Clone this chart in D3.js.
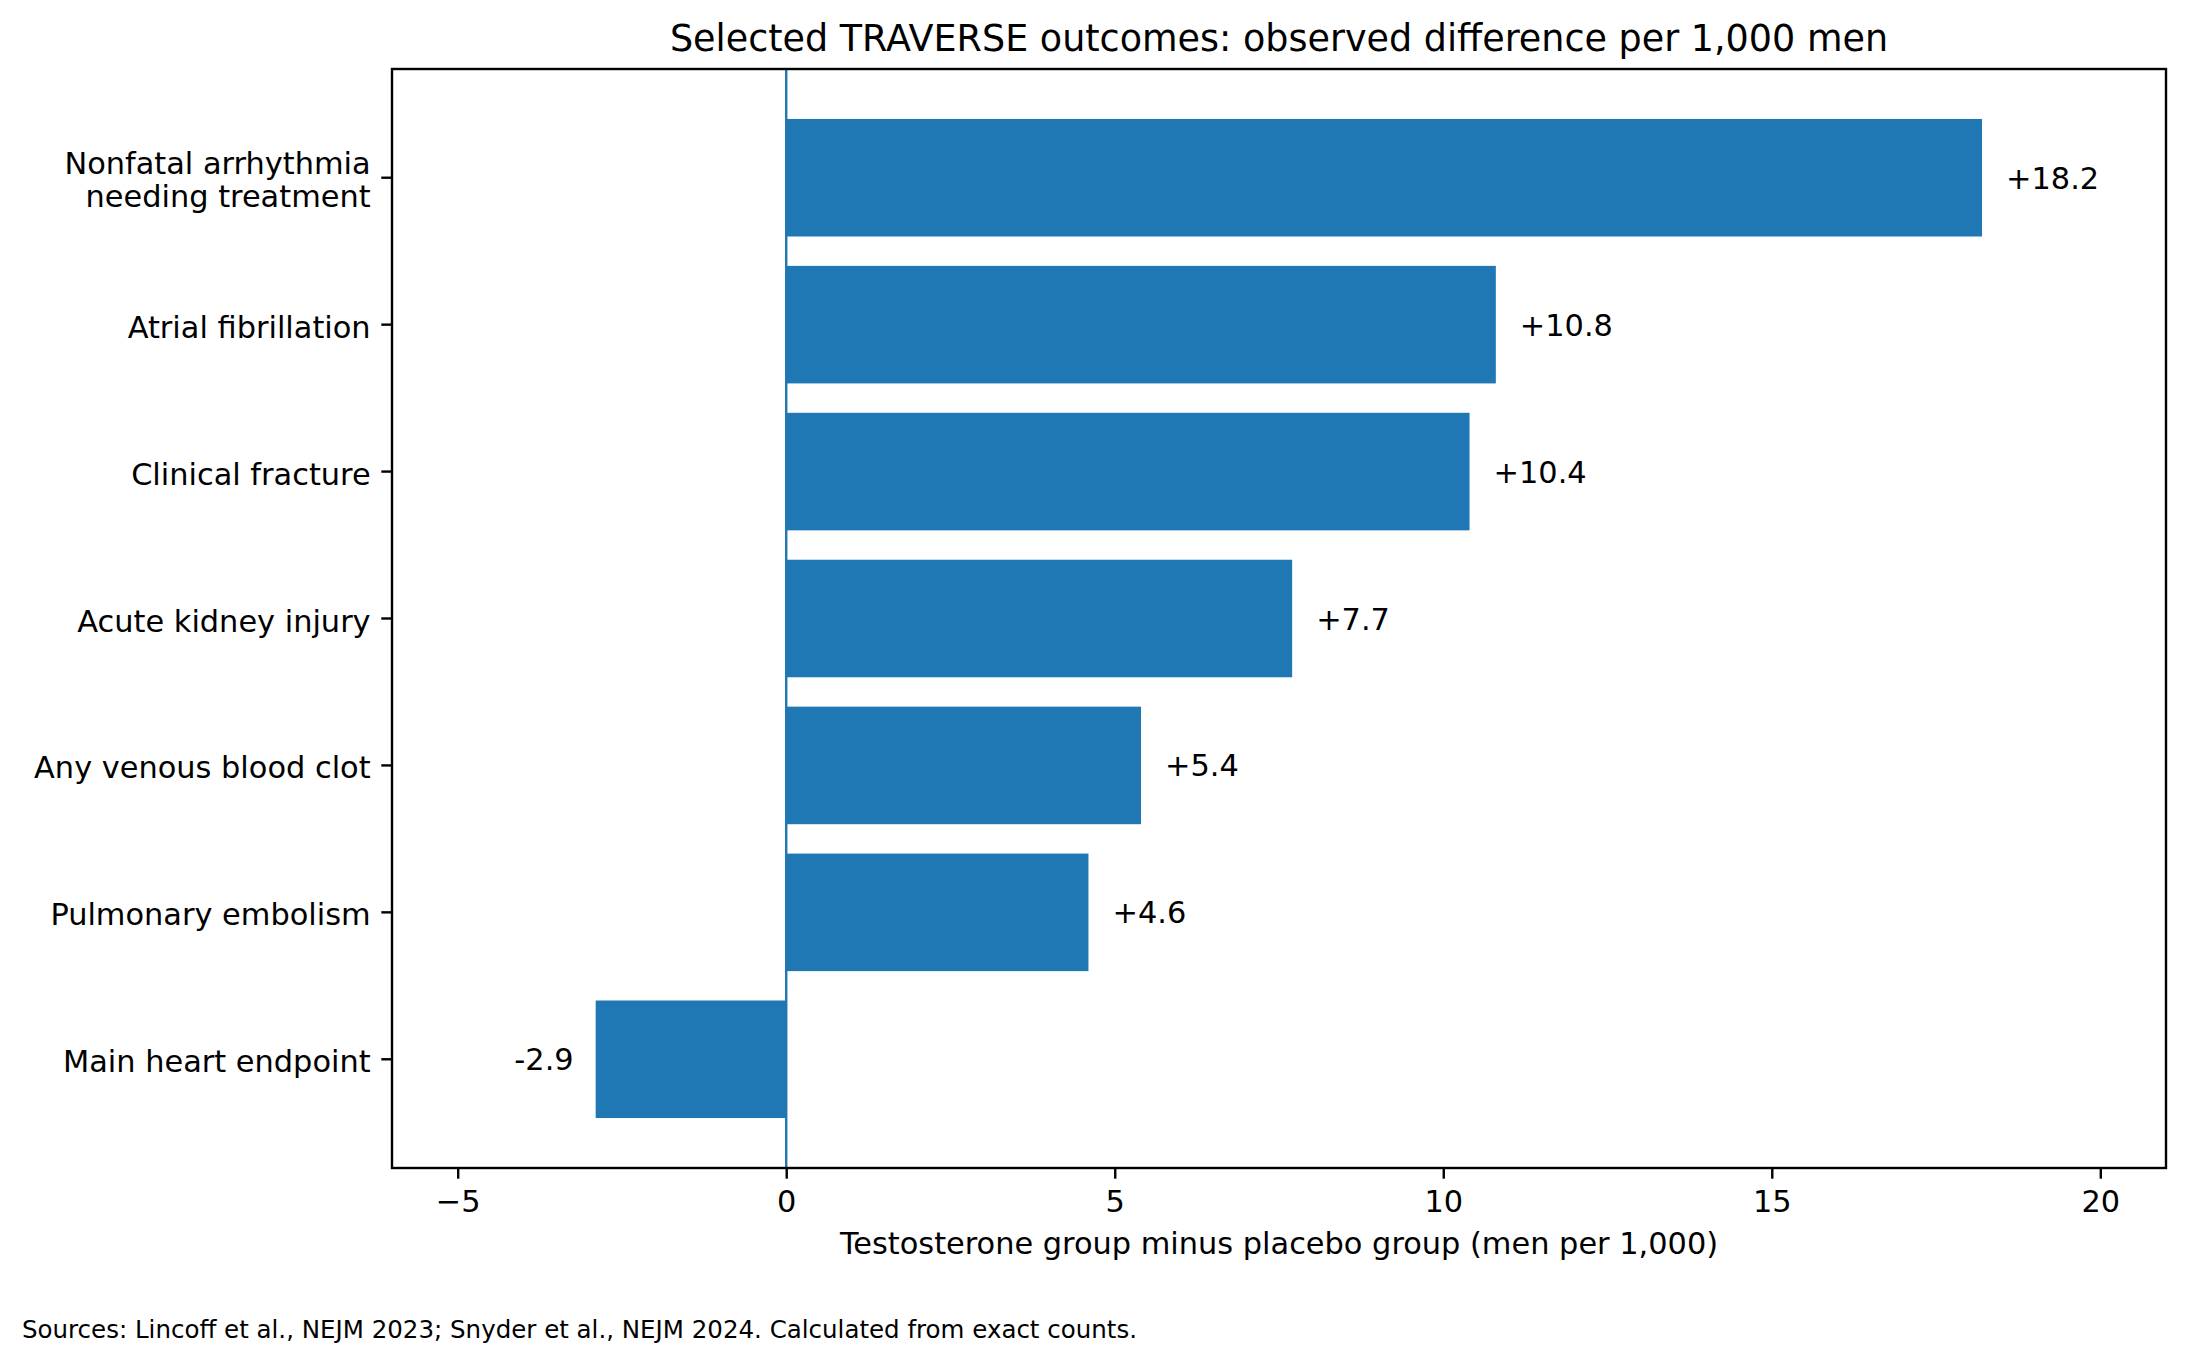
<!DOCTYPE html>
<html>
<head>
<meta charset="utf-8">
<script src="https://cdn.jsdelivr.net/npm/d3@7"></script>
<style>
  html, body { margin: 0; padding: 0; background: #fff; }
  text { font-family: "DejaVu Sans", sans-serif; fill: #000; }
</style>
</head>
<body>
<script>
const width = 2189;
const height = 1364;

// Données
const outcomes = [
    "Nonfatal arrhythmia\nneeding treatment",
    "Atrial fibrillation",
    "Clinical fracture",
    "Acute kidney injury",
    "Any venous blood clot",
    "Pulmonary embolism",
    "Main heart endpoint"
];
const differences = [18.2, 10.8, 10.4, 7.7, 5.4, 4.6, -2.9];
const xTicks = [-5, 0, 5, 10, 15, 20];
const xDomain = [-6, 21];

const margin = { top: 69, right: 23, bottom: 196, left: 392 };
const blue = "#1f77b4";
const fontSize = "30.4px";

const svg = d3.select("body")
    .append("svg")
    .attr("width", width)
    .attr("height", height);

const x = d3.scaleLinear()
    .domain(xDomain)
    .range([margin.left, width - margin.right]);

const y = d3.scaleBand()
    .domain(outcomes)
    .range([margin.top, height - margin.bottom])
    .paddingInner(0.2)
    .paddingOuter(0.34);

// Titre
svg.append("text")
    .attr("x", (x.range()[0] + x.range()[1]) / 2)
    .attr("y", 51)
    .attr("text-anchor", "middle")
    .attr("font-size", "36.5px")
    .text("Selected TRAVERSE outcomes: observed difference per 1,000 men");

// Ligne verticale à zéro
svg.append("line")
    .attr("x1", x(0)).attr("x2", x(0))
    .attr("y1", margin.top).attr("y2", height - margin.bottom)
    .attr("stroke", blue)
    .attr("stroke-width", 2.4);

// Barres
svg.selectAll("rect.bar")
    .data(differences)
    .enter()
    .append("rect")
    .attr("class", "bar")
    .attr("x", d => x(Math.min(0, d)))
    .attr("y", (d, i) => y(outcomes[i]))
    .attr("width", d => Math.abs(x(d) - x(0)))
    .attr("height", y.bandwidth())
    .attr("fill", blue);

// Étiquettes de valeurs
svg.selectAll("text.value")
    .data(differences)
    .enter()
    .append("text")
    .attr("class", "value")
    .attr("x", d => x(d) + (d >= 0 ? 24 : -22))
    .attr("y", (d, i) => y(outcomes[i]) + y.bandwidth() / 2 + 11)
    .attr("text-anchor", d => d >= 0 ? "start" : "end")
    .attr("font-size", fontSize)
    .text(d => (d >= 0 ? "+" : "") + d.toFixed(1));

// Axe X
const xAxis = svg.append("g")
    .attr("transform", `translate(0, ${height - margin.bottom})`)
    .call(d3.axisBottom(x).tickValues(xTicks).tickSize(10.7).tickPadding(12)
        .tickFormat(d => d < 0 ? "\u2212" + Math.abs(d) : d));
xAxis.select(".domain").remove();
xAxis.selectAll(".tick line").attr("stroke", "#000").attr("stroke-width", 2.4);
xAxis.selectAll(".tick text").attr("font-size", fontSize).attr("font-family", "DejaVu Sans");

// Axe Y
const yAxis = svg.append("g")
    .attr("transform", `translate(${margin.left}, 0)`)
    .call(d3.axisLeft(y).tickSize(10.7).tickPadding(10.7).tickFormat(""));
yAxis.select(".domain").remove();
yAxis.selectAll(".tick line").attr("stroke", "#000").attr("stroke-width", 2.4);
yAxis.selectAll(".tick").each(function (d) {
    const lines = d.split("\n");
    const t = d3.select(this).append("text")
        .attr("text-anchor", "end")
        .attr("font-size", fontSize);
    lines.forEach((line, k) => {
        t.append("tspan")
            .attr("x", -21.4)
            .attr("y", 13 + (k - (lines.length - 1) / 2) * 33.3)
            .text(line);
    });
});

// Cadre
svg.append("rect")
    .attr("x", margin.left)
    .attr("y", margin.top)
    .attr("width", width - margin.left - margin.right)
    .attr("height", height - margin.top - margin.bottom)
    .attr("fill", "none")
    .attr("stroke", "#000")
    .attr("stroke-width", 2.4);

// Légende de l'axe X
svg.append("text")
    .attr("x", (x.range()[0] + x.range()[1]) / 2)
    .attr("y", 1254)
    .attr("text-anchor", "middle")
    .attr("font-size", fontSize)
    .text("Testosterone group minus placebo group (men per 1,000)");

// Sources
svg.append("text")
    .attr("x", 22)
    .attr("y", 1338)
    .attr("font-size", "24.5px")
    .text("Sources: Lincoff et al., NEJM 2023; Snyder et al., NEJM 2024. Calculated from exact counts.");
</script>
</body>
</html>
